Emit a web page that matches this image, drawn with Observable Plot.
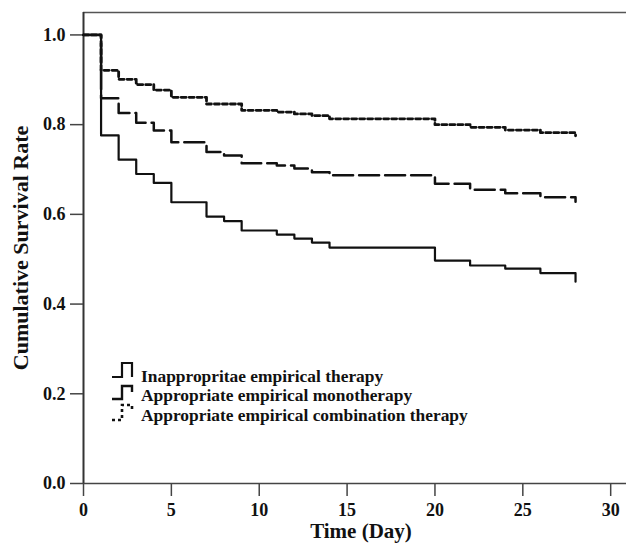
<!DOCTYPE html>
<html>
<head>
<meta charset="utf-8">
<script src="https://cdn.jsdelivr.net/npm/d3@7"></script>
<script src="https://cdn.jsdelivr.net/npm/@observablehq/plot@0.6"></script>
<style>
  html, body { margin: 0; padding: 0; background: #fff; }
  #chart { width: 626px; height: 549px; }
</style>
</head>
<body>
<div id="chart"></div>
<script>
// Series (Kaplan–Meier step points: day, cumulative survival)
const groupNames = [
  "Inappropritae empirical therapy",
  "Appropriate empirical monotherapy",
  "Appropriate empirical combination therapy"
];
const daysInappropriate = [0, 1, 2, 3, 4, 5, 7, 8, 9, 11, 12, 13, 14, 20, 22, 24, 26, 28];
const survInappropriate = [1, 0.776, 0.722, 0.690, 0.670, 0.627, 0.595, 0.585, 0.564, 0.555, 0.546, 0.537, 0.526, 0.497, 0.486, 0.479, 0.469, 0.450];
const daysMono = [0, 1, 2, 3, 4, 5, 7, 8, 9, 11, 12, 13, 14, 20, 22, 24, 26, 28];
const survMono = [1, 0.859, 0.826, 0.804, 0.787, 0.761, 0.739, 0.731, 0.714, 0.709, 0.702, 0.694, 0.687, 0.668, 0.655, 0.647, 0.638, 0.628];
const daysCombo = [0, 1, 2, 3, 4, 5, 7, 9, 11, 12, 13, 14, 20, 22, 24, 26, 28];
const survCombo = [1, 0.921, 0.901, 0.889, 0.877, 0.861, 0.846, 0.832, 0.828, 0.824, 0.820, 0.813, 0.800, 0.794, 0.788, 0.782, 0.775];
const xTicks = [0, 5, 10, 15, 20, 25, 30];
const yTicks = [0, 0.2, 0.4, 0.6, 0.8, 1.0];

const toRows = (days, surv) => days.map((d, i) => ({day: d, surv: surv[i]}));
const rowsA = toRows(daysInappropriate, survInappropriate);
const rowsB = toRows(daysMono, survMono);
const rowsC = toRows(daysCombo, survCombo);

const font = "'Liberation Serif', 'Times New Roman', serif";
const ink = "#111";
const axisGray = "#444";

const chart = Plot.plot({
  width: 626,
  height: 549,
  marginLeft: 83,
  marginRight: 0,
  marginTop: 12,
  marginBottom: 66,
  style: {fontFamily: font, fontWeight: "bold", color: ink, background: "#fff", overflow: "visible"},
  x: {domain: [0, 30.9]},
  y: {domain: [0, 1.05]},
  marks: [
    Plot.ruleY([1.05], {stroke: "#555", strokeWidth: 1.5}),
    Plot.ruleY([0], {stroke: axisGray, strokeWidth: 1.6}),
    Plot.ruleX([0], {stroke: "#333", strokeWidth: 2}),
    Plot.axisY({ticks: yTicks, tickSize: 13, tickPadding: 5, tickFormat: d3.format(".1f"),
      fontSize: 18, fontWeight: "bold", stroke: axisGray, strokeWidth: 1.5, fill: ink, label: null}),
    Plot.axisX({ticks: xTicks, tickSize: 13, tickPadding: 7, tickFormat: d3.format("d"),
      fontSize: 18, fontWeight: "bold", stroke: axisGray, strokeWidth: 1.5, fill: ink, label: null}),
    Plot.line(rowsC, {x: "day", y: "surv", curve: "step-after", stroke: ink, strokeWidth: 2.8, strokeDasharray: "5,3"}),
    Plot.line(rowsB, {x: "day", y: "surv", curve: "step-after", stroke: ink, strokeWidth: 2.5, strokeDasharray: "20,6"}),
    Plot.line(rowsA, {x: "day", y: "surv", curve: "step-after", stroke: ink, strokeWidth: 2.2}),
    Plot.text(["Cumulative Survival Rate"], {frameAnchor: "left", dx: -63, rotate: -90, fontSize: 22,
      fontWeight: "bold", fill: ink, textAnchor: "middle"}),
    Plot.text(["Time (Day)"], {frameAnchor: "bottom", dx: 6, dy: 54, fontSize: 21,
      fontWeight: "bold", fill: ink, textAnchor: "middle"})
  ]
});

// Legend inside the plot area
const svg = d3.select(chart);
const leg = svg.append("g").attr("font-family", font).attr("font-weight", "bold")
  .attr("font-size", 17.4).attr("fill", ink).attr("text-anchor", "start");
const legendStyles = [
  {dash: null, width: 2.2, path: "M112,377 H122 V363 H132 V377"},
  {dash: null, width: 2.4, path: "M112,399 H122 V386 H132 V392"},
  {dash: "3,3", width: 2.6, path: "M112,420 H122 V405 H132 V412"}
];
const legendBaselines = [382, 401, 421];
groupNames.forEach((name, i) => {
  const s = legendStyles[i];
  leg.append("path").attr("d", s.path).attr("fill", "none").attr("stroke", ink)
    .attr("stroke-width", s.width).attr("stroke-dasharray", s.dash);
  leg.append("text").attr("x", 141).attr("y", legendBaselines[i]).attr("text-anchor", "start").text(name);
});

document.getElementById("chart").appendChild(chart);
</script>
</body>
</html>
